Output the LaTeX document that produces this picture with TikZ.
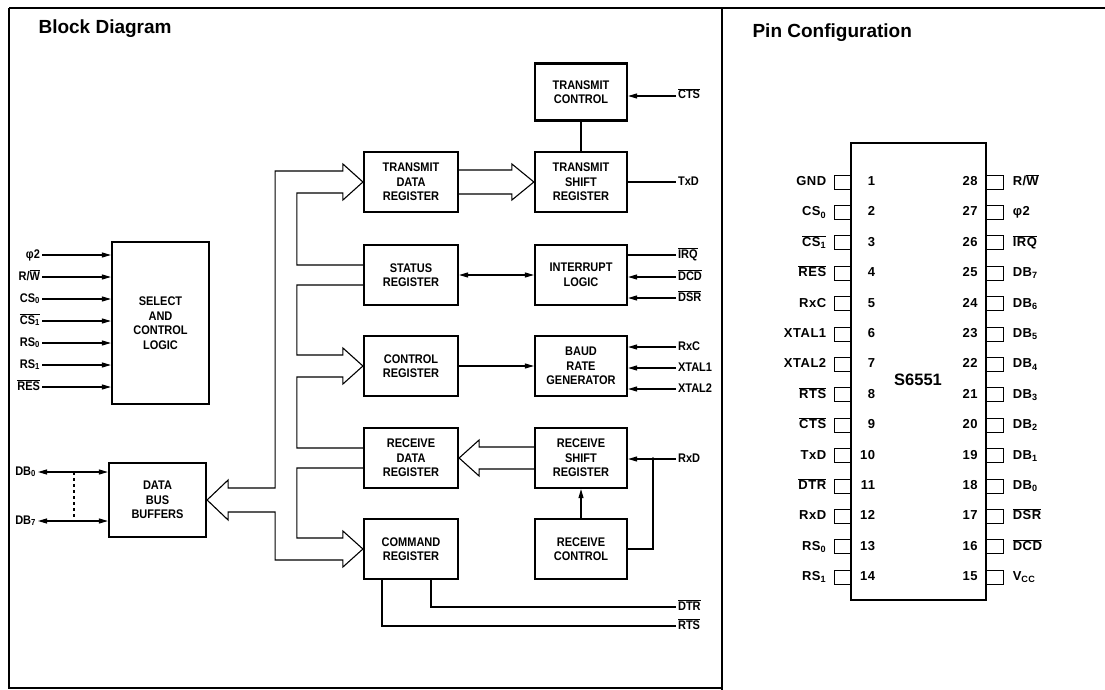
\documentclass[tikz,border=0pt]{standalone}
\usepackage{fontspec}
\setmainfont{Liberation Sans}
\newfontfamily\condfont[FakeStretch=0.88]{Liberation Sans}
\newfontfamily\pinfont[LetterSpace=4]{Liberation Sans}
\usetikzlibrary{arrows.meta,calc}
\newcommand{\barsig}[1]{$\overline{\mbox{#1}}$}
\tikzset{
  blk/.style={draw, line width=2.2pt, minimum width=94, minimum height=60, inner sep=0pt, align=center, font=\condfont\bfseries\fontsize{12.5}{14.5}\selectfont},
  rblk/.style={blk, minimum width=92},
  sig/.style={inner sep=1.5pt, text height=8pt, text depth=2pt, font=\condfont\bfseries\fontsize{12.5}{13}\selectfont},
  pinlab/.style={inner sep=1.5pt, text height=9pt, text depth=2pt, font=\pinfont\bfseries\fontsize{13}{14}\selectfont},
  pin/.style={draw, line width=1pt, minimum width=16, minimum height=14, inner sep=0pt, outer sep=0pt},
  title/.style={inner sep=0pt, font=\bfseries\fontsize{19}{21}\selectfont},
  arr/.style={-{Triangle[length=9pt,width=5pt]}},
  biarr/.style={{Triangle[length=9pt,width=5pt]}-{Triangle[length=9pt,width=5pt]}},
  bus/.style={line width=1.1pt, line join=miter},
  frame/.style={line width=2pt}
}
\begin{document}
\begin{tikzpicture}[x=1pt,y=-1pt,line width=1.1pt]
\useasboundingbox (0,0) rectangle (1105,690);
% frame
\draw[frame] (9,8) -- (1105,8);
\draw[frame] (9,8) -- (9,688) -- (722,688);
\draw[frame] (722,8) -- (722,690);
\node[title, anchor=base west] (bdtitle) at (38,34) {Block Diagram};
\node[title, anchor=base west] (pctitle) at (752,38) {Pin Configuration};
% block diagram
\node[blk, minimum width=97, minimum height=162] (sel) at (160.5,323) {SELECT\\AND\\CONTROL\\LOGIC};
\node[blk, minimum width=97, minimum height=74] (dbb) at (157.5,500) {DATA\\BUS\\BUFFERS};
\node[blk] (tdr) at (411,182) {TRANSMIT\\DATA\\REGISTER};
\node[blk] (stat) at (411,275) {STATUS\\REGISTER};
\node[blk] (cr) at (411,366) {CONTROL\\REGISTER};
\node[blk] (rdr) at (411,458) {RECEIVE\\DATA\\REGISTER};
\node[blk] (cmd) at (411,549) {COMMAND\\REGISTER};
\node[rblk, minimum height=57] (tc) at (581,92) {TRANSMIT\\CONTROL};
\node[rblk] (tsr) at (581,182) {TRANSMIT\\SHIFT\\REGISTER};
\node[rblk] (int) at (581,275) {INTERRUPT\\LOGIC};
\node[rblk] (brg) at (581,366) {BAUD\\RATE\\GENERATOR};
\node[rblk] (rsr) at (581,458) {RECEIVE\\SHIFT\\REGISTER};
\node[rblk] (rc) at (581,549) {RECEIVE\\CONTROL};
% processor side inputs
\foreach \lab [count=\i from 0] in {φ2, {R/\barsig{W}}, CS\textsubscript{0}, \barsig{CS\textsubscript{1}}, RS\textsubscript{0}, RS\textsubscript{1}, \barsig{RES}} {
  \node[sig, anchor=east] (in\i) at (42,255+22*\i) {\lab};
  \draw[arr] (in\i.east) -- (in\i.east -| sel.west);
}
\node[sig, anchor=east] (db0) at (38,472) {DB\textsubscript{0}};
\node[sig, anchor=east] (db7) at (38,521) {DB\textsubscript{7}};
\draw[biarr] (db0.east) -- (db0.east -| dbb.west);
\draw[biarr] (db7.east) -- (db7.east -| dbb.west);
\draw[dashed] ($(db0.east)+(36,0)$) -- ($(db7.east)+(36,0)$);
% internal bus
\draw[bus] (dbb.east) -- ++(21,-20) -- ++(0,8) -- ++(47,0) |- ($(tdr.west)+(-20,-11)$) -- ++(0,-7) -- (tdr.west) -- ++(-20,18) -- ++(0,-7) -| ($(stat.west)+(-66,-10)$) -- ($(stat.west)+(0,-10)$);
\draw[bus] ($(stat.west)+(0,10)$) -- ++(-66,0) |- ($(cr.west)+(-20,-11)$) -- ++(0,-7) -- (cr.west) -- ++(-20,18) -- ++(0,-7) -| ($(rdr.west)+(-66,-10)$) -- ($(rdr.west)+(0,-10)$);
\draw[bus] ($(rdr.west)+(0,10)$) -- ++(-66,0) |- ($(cmd.west)+(-20,-11)$) -- ++(0,-7) -- (cmd.west) -- ++(-20,18) -- ++(0,-7) -| ($(dbb.east)+(68,12)$) -- ++(-47,0) -- ++(0,8) -- (dbb.east);
\draw[bus] ($(tdr.east)+(0,-12)$) -- ($(tsr.west)+(-22,-12)$) -- ++(0,-6) -- (tsr.west) -- ++(-22,18) -- ++(0,-6) -- ($(tdr.east)+(0,12)$);
\draw[bus] ($(rsr.west)+(0,-11)$) -- ($(rdr.east)+(20,-11)$) -- ++(0,-7) -- (rdr.east) -- ++(20,18) -- ++(0,-7) -- ($(rsr.west)+(0,11)$);
% internal links
\draw (tc.south) -- (tsr.north);
\draw[biarr] (stat.east) -- (int.west);
\draw[arr] (cr.east) -- (brg.west);
\draw[arr] (rc.north) -- (rsr.south);
% modem side signals
\node[sig, anchor=west] (cts) at (676,96) {\barsig{CTS}};
\node[sig, anchor=west] (txd) at (676,182) {TxD};
\node[sig, anchor=west] (irq) at (676,255) {\barsig{IRQ}};
\node[sig, anchor=west] (dcd) at (676,277) {\barsig{DCD}};
\node[sig, anchor=west] (dsr) at (676,298) {\barsig{DSR}};
\node[sig, anchor=west] (rxc) at (676,347) {RxC};
\node[sig, anchor=west] (xtal1) at (676,368) {XTAL1};
\node[sig, anchor=west] (xtal2) at (676,389) {XTAL2};
\node[sig, anchor=west] (rxd) at (676,459) {RxD};
\node[sig, anchor=west] (dtr) at (676,607) {\barsig{DTR}};
\node[sig, anchor=west] (rts) at (676,626) {\barsig{RTS}};
\draw[arr] (cts.west) -- (cts.west -| tc.east);
\draw (tsr.east) -- (txd.west);
\draw (irq.west) -- (irq.west -| int.east);
\draw[arr] (dcd.west) -- (dcd.west -| int.east);
\draw[arr] (dsr.west) -- (dsr.west -| int.east);
\draw[arr] (rxc.west) -- (rxc.west -| brg.east);
\draw[arr] (xtal1.west) -- (xtal1.west -| brg.east);
\draw[arr] (xtal2.west) -- (xtal2.west -| brg.east);
\draw[arr] (rxd.west) -- (rxd.west -| rsr.east);
\coordinate (rxj) at ($(rxd.west)+(-23,0)$);
\fill (rxj) circle (1.8);
\draw (rxj) |- (rc.east);
\draw ($(cmd.south)+(20,0)$) |- (dtr.west);
\draw ($(cmd.south)+(-29,0)$) |- (rts.west);
% pin configuration
\node[draw, line width=1.5pt, minimum width=135, minimum height=457, inner sep=0pt] (chip) at (918.5,371.5) {};
\node[inner sep=0pt, font=\bfseries\fontsize{16.5}{18}\selectfont] (chipname) at (918,380) {S6551};
\foreach \lab [count=\n] in {GND, CS\textsubscript{0}, \barsig{CS\textsubscript{1}}, \barsig{RES}, RxC, XTAL1, XTAL2, \barsig{RTS}, \barsig{CTS}, TxD, \barsig{DTR}, RxD, RS\textsubscript{0}, RS\textsubscript{1}} {
  \node[pin, anchor=east] (pl\n) at (chip.west |- {(0,182+30.4*(\n-1))}) {};
  \node[pinlab, anchor=east] (ll\n) at ($(pl\n.west)+(-6,0)$) {\lab};
  \node[pinlab, anchor=east] (nl\n) at ($(pl\n.east)+(27,0)$) {\n};
}
\foreach \lab [count=\i] in {{R/\barsig{W}}, φ2, \barsig{IRQ}, DB\textsubscript{7}, DB\textsubscript{6}, DB\textsubscript{5}, DB\textsubscript{4}, DB\textsubscript{3}, DB\textsubscript{2}, DB\textsubscript{1}, DB\textsubscript{0}, \barsig{DSR}, \barsig{DCD}, V\textsubscript{CC}} {
  \pgfmathtruncatemacro\pn{29-\i}
  \node[pin, anchor=west, minimum width=17] (pr\pn) at (chip.east |- {(0,182+30.4*(\i-1))}) {};
  \node[pinlab, anchor=west] (lr\pn) at ($(pr\pn.east)+(7,0)$) {\lab};
  \node[pinlab, anchor=east] (nr\pn) at ($(pr\pn.west)+(-7,0)$) {\pn};
}
\end{tikzpicture}
\end{document}
